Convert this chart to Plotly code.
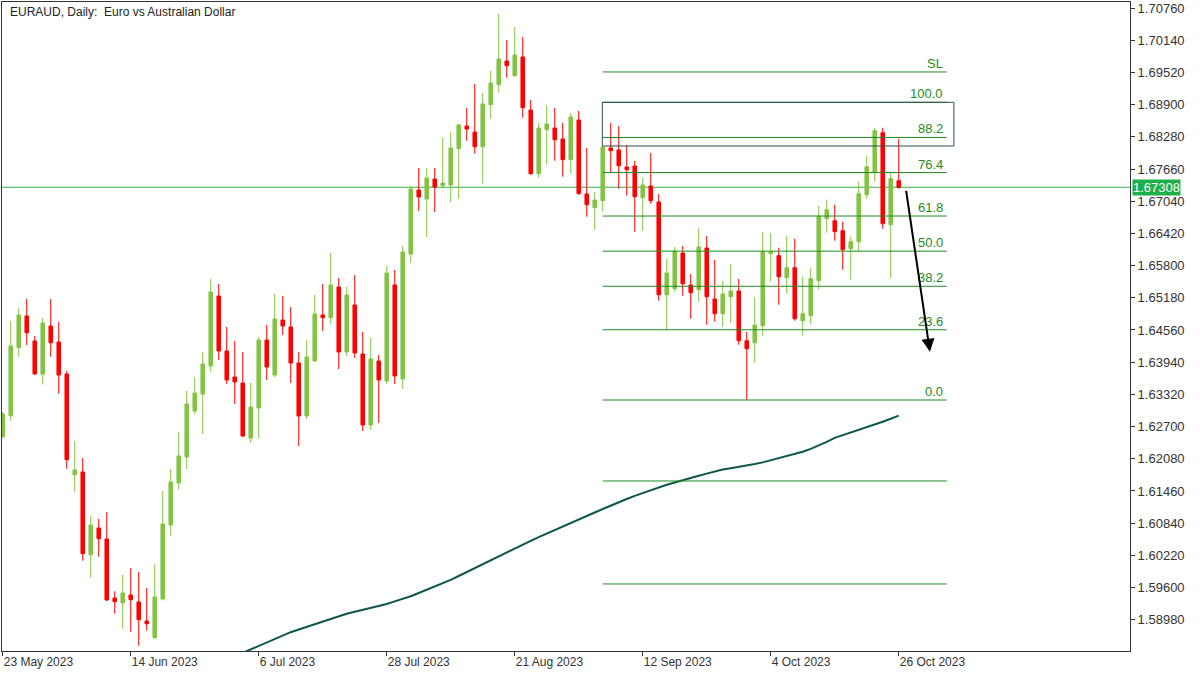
import plotly.graph_objects as go
import pandas as pd

# ---- data -------------------------------------------------------------
dates = [d.strftime("%Y-%m-%d") for d in pd.bdate_range("2023-05-23", "2023-10-26")]

open_ = [1.62505, 1.62910, 1.64219, 1.64830, 1.64348, 1.63713, 1.64637, 1.64329, 1.63713, 1.61774,
         1.61826, 1.60233, 1.60747, 1.60536, 1.59400, 1.59309, 1.59457, 1.59323, 1.58957, 1.58635,
         1.59380, 1.60805, 1.61614, 1.62115, 1.63000, 1.63328, 1.63867, 1.65215, 1.64156, 1.63655,
         1.63539, 1.62480, 1.63058, 1.64367, 1.63693, 1.64752, 1.64618, 1.63924, 1.62904, 1.63963,
         1.64849, 1.64797, 1.65388, 1.64136, 1.65041, 1.64098, 1.62731, 1.63963, 1.63578, 1.65426,
         1.63616, 1.66023, 1.67256, 1.67082, 1.67467, 1.67338, 1.67352, 1.68051, 1.68488, 1.68372,
         1.68089, 1.68898, 1.69283, 1.69739, 1.69456, 1.69817, 1.68796, 1.67570, 1.68417, 1.68449,
         1.68238, 1.67839, 1.68603, 1.67179, 1.66915, 1.67050, 1.68064, 1.68026, 1.67698, 1.67718,
         1.67107, 1.67333, 1.67025, 1.65240, 1.65355, 1.66043, 1.65426, 1.65336, 1.66139, 1.65157,
         1.64874, 1.65201, 1.65311, 1.64354, 1.64315, 1.64643, 1.66029, 1.65991, 1.65567, 1.65759,
         1.64739, 1.64835, 1.65509, 1.66703, 1.66664, 1.66472, 1.66125, 1.66260, 1.67165, 1.67596,
         1.68359, 1.66587, 1.67435]
high = [1.62981, 1.64733, 1.64984, 1.65157, 1.64444, 1.64791, 1.65157, 1.64714, 1.63770, 1.62423,
        1.62095, 1.60978, 1.60921, 1.61056, 1.59529, 1.59842, 1.59977, 1.59900, 1.59592, 1.60054,
        1.61460, 1.61883, 1.62596, 1.63385, 1.63655, 1.64136, 1.65542, 1.65446, 1.64618, 1.64348,
        1.64136, 1.63539, 1.64425, 1.64656, 1.65253, 1.65215, 1.65003, 1.64136, 1.64367, 1.65234,
        1.65446, 1.66043, 1.65561, 1.65388, 1.65619, 1.64521, 1.64406, 1.64079, 1.65792, 1.65715,
        1.66177, 1.67333, 1.67679, 1.67679, 1.67679, 1.68257, 1.68372, 1.68526, 1.68835, 1.69297,
        1.69123, 1.69547, 1.70644, 1.70144, 1.70394, 1.70202, 1.68989, 1.68546, 1.68892, 1.68835,
        1.68546, 1.68738, 1.68777, 1.68064, 1.67217, 1.68103, 1.68546, 1.68488, 1.68122, 1.67814,
        1.67487, 1.67968, 1.67179, 1.65927, 1.66158, 1.66177, 1.65638, 1.66524, 1.66370, 1.65908,
        1.65503, 1.65831, 1.65542, 1.64521, 1.65195, 1.66447, 1.66428, 1.66145, 1.66376, 1.66318,
        1.65586, 1.65759, 1.66948, 1.67069, 1.66973, 1.66645, 1.66356, 1.67415, 1.67916, 1.68449,
        1.68455, 1.67589, 1.68238]
low = [1.62480, 1.62813, 1.64046, 1.64271, 1.63693, 1.63507, 1.64046, 1.63333, 1.61889, 1.61446,
       1.60118, 1.59790, 1.60195, 1.59342, 1.59097, 1.58808, 1.58751, 1.58481, 1.58770, 1.58620,
       1.59348, 1.60593, 1.61485, 1.61883, 1.62943, 1.62557, 1.63751, 1.63982, 1.63520, 1.63135,
       1.62500, 1.62384, 1.62480, 1.63597, 1.63655, 1.64464, 1.63539, 1.62326, 1.62846, 1.63944,
       1.64541, 1.64675, 1.63809, 1.64059, 1.64021, 1.62615, 1.62634, 1.62769, 1.63520, 1.63520,
       1.63424, 1.65850, 1.66851, 1.66351, 1.66832, 1.67281, 1.67025, 1.67088, 1.68205, 1.67955,
       1.67377, 1.68629, 1.69129, 1.69418, 1.69437, 1.68648, 1.67550, 1.67492, 1.67743, 1.67820,
       1.67512, 1.67570, 1.67169, 1.66742, 1.66491, 1.66838, 1.67602, 1.67281, 1.67146, 1.66453,
       1.66472, 1.66992, 1.65124, 1.64560, 1.65297, 1.65220, 1.64778, 1.65105, 1.64662, 1.64720,
       1.64623, 1.64700, 1.64277, 1.63212, 1.63930, 1.64450, 1.65490, 1.65047, 1.65259, 1.64739,
       1.64450, 1.64662, 1.65336, 1.66433, 1.66279, 1.65721, 1.65529, 1.66068, 1.67088, 1.67415,
       1.66510, 1.65567, 1.67281]
close = [1.62943, 1.64252, 1.64849, 1.64508, 1.63713, 1.64695, 1.64315, 1.63693, 1.62063, 1.61864,
         1.60253, 1.60805, 1.60541, 1.59361, 1.59328, 1.59496, 1.59367, 1.58982, 1.58905, 1.59419,
         1.60824, 1.61633, 1.62134, 1.63135, 1.63347, 1.63905, 1.65292, 1.64156, 1.63597, 1.63559,
         1.62519, 1.63077, 1.64367, 1.63847, 1.64772, 1.64637, 1.63924, 1.62904, 1.64040, 1.64868,
         1.64797, 1.65426, 1.64136, 1.65234, 1.64117, 1.62731, 1.64002, 1.63597, 1.65657, 1.63674,
         1.66062, 1.67275, 1.67121, 1.67487, 1.67313, 1.67390, 1.68064, 1.68507, 1.68430, 1.68089,
         1.68912, 1.69316, 1.69778, 1.69649, 1.69855, 1.68840, 1.67570, 1.68449, 1.68526, 1.68224,
         1.67839, 1.68661, 1.67184, 1.66973, 1.67063, 1.68084, 1.68012, 1.67723, 1.67647, 1.67127,
         1.67352, 1.67050, 1.65240, 1.65657, 1.66081, 1.65451, 1.65278, 1.66158, 1.65201, 1.64874,
         1.65253, 1.65311, 1.64354, 1.64200, 1.64656, 1.66068, 1.66068, 1.65586, 1.65759, 1.64778,
         1.64874, 1.65548, 1.66749, 1.66876, 1.66453, 1.66106, 1.66260, 1.67184, 1.67704, 1.68397,
         1.66607, 1.67473, 1.67308]

# moving average (visible part starts near 5 Jul)
ma_line = [None] * 30 + [
    1.58344, 1.58412, 1.58479, 1.58547, 1.58614, 1.58681, 1.58741, 1.58793, 1.58845, 1.58897,
    1.58949, 1.59005, 1.59051, 1.59095, 1.59134, 1.59170, 1.59207, 1.59244, 1.59284, 1.59334,
    1.59382, 1.59434, 1.59496, 1.59557, 1.59619, 1.59679, 1.59750, 1.59823, 1.59900, 1.59977,
    1.60054, 1.60131, 1.60208, 1.60281, 1.60356, 1.60430, 1.60501, 1.60570, 1.60640, 1.60709,
    1.60776, 1.60844, 1.60909, 1.60978, 1.61046, 1.61113, 1.61181, 1.61244, 1.61306, 1.61367,
    1.61423, 1.61475, 1.61531, 1.61579, 1.61625, 1.61672, 1.61712, 1.61753, 1.61795, 1.61835,
    1.61872, 1.61897, 1.61920, 1.61945, 1.61978, 1.62011, 1.62049, 1.62090, 1.62132, 1.62174,
    1.62215, 1.62272, 1.62336, 1.62407, 1.62484, 1.62534, 1.62584, 1.62634, 1.62683, 1.62738,
    1.62794, 1.62850, 1.62910]

tick_dates = ["2023-05-23", "2023-06-14", "2023-07-06", "2023-07-28",
              "2023-08-21", "2023-09-12", "2023-10-04", "2023-10-26"]
tick_labels = ["23 May 2023", "14 Jun 2023", "6 Jul 2023", "28 Jul 2023",
               "21 Aug 2023", "12 Sep 2023", "4 Oct 2023", "26 Oct 2023"]
price_ticks = [1.58980, 1.59600, 1.60220, 1.60840, 1.61460, 1.62080, 1.62700, 1.63320,
               1.63940, 1.64560, 1.65180, 1.65800, 1.66420, 1.67040, 1.67660, 1.68280,
               1.68900, 1.69520, 1.70140, 1.70760]

current_price = 1.67308
fib_low = 1.63212
fib_high = 1.68944
fib_levels = [100.0, 88.2, 76.4, 61.8, 50.0, 38.2, 23.6, 0.0, -27.2, -61.8]
fib_labels = ["100.0", "88.2", "76.4", "61.8", "50.0", "38.2", "23.6", "0.0", "", ""]
sl_price = 1.69528
zone_low = 1.68103
fib_start, fib_end, zone_end = 75, 118, 118.9
arrow_from = (112.9, 1.67269)
arrow_to = (115.9, 1.64142)

# ---- styling ----------------------------------------------------------
GREEN_C = "#82C341"
RED_C = "#FF0000"
FIB_C = "#1E8C1E"
TXT = "#333333"
FONT = "Liberation Sans"

fig = go.Figure()
fig.add_trace(go.Candlestick(
    x=dates, open=open_, high=high, low=low, close=close,
    increasing=dict(line=dict(color=GREEN_C, width=1), fillcolor=GREEN_C),
    decreasing=dict(line=dict(color=RED_C, width=1), fillcolor=RED_C),
    whiskerwidth=0, hoverinfo="skip", showlegend=False))
fig.add_trace(go.Scatter(
    x=dates, y=ma_line, mode="lines",
    line=dict(color="#0D564C", width=2), hoverinfo="skip", showlegend=False))

shapes = []
# current price line
shapes.append(dict(type="line", xref="paper", x0=0, x1=1, yref="y",
                   y0=current_price, y1=current_price,
                   line=dict(color="#3AAE4C", width=1), layer="below"))
# fib levels
annotations = []
for lvl, lab in zip(fib_levels, fib_labels):
    p = fib_low + (fib_high - fib_low) * lvl / 100.0
    shapes.append(dict(type="line", xref="x", yref="y", x0=fib_start, x1=fib_end,
                       y0=p, y1=p, line=dict(color=FIB_C, width=1)))
    if lab:
        annotations.append(dict(x=fib_end - 0.25, y=p, xref="x", yref="y", text=lab,
                                showarrow=False, xanchor="right", yanchor="bottom",
                                yshift=-1, font=dict(family=FONT, size=13, color=FIB_C)))
shapes.append(dict(type="line", xref="x", yref="y", x0=fib_start, x1=fib_end,
                   y0=sl_price, y1=sl_price, line=dict(color=FIB_C, width=1)))
annotations.append(dict(x=fib_end - 0.25, y=sl_price, xref="x", yref="y", text="SL",
                        showarrow=False, xanchor="right", yanchor="bottom", yshift=-1,
                        font=dict(family=FONT, size=13, color=FIB_C)))
# zone rectangle
shapes.append(dict(type="rect", xref="x", yref="y", x0=fib_start - 0.05, x1=zone_end,
                   y0=zone_low, y1=fib_high, line=dict(color="#2F4F4F", width=1),
                   fillcolor="rgba(0,0,0,0)"))

# arrow
annotations.append(dict(x=arrow_to[0], y=arrow_to[1], ax=arrow_from[0], ay=arrow_from[1],
                        xref="x", yref="y", axref="x", ayref="y", text="",
                        showarrow=True, arrowhead=2, arrowsize=1.3, arrowwidth=2,
                        arrowcolor="#000000"))
# title
annotations.append(dict(x=0.0053, y=0.985, xref="paper", yref="paper",
                        text="EURAUD, Daily:  Euro vs Australian Dollar",
                        showarrow=False, xanchor="left", yanchor="middle",
                        font=dict(family=FONT, size=12, color="#222222")))
# current price label
annotations.append(dict(x=1, y=current_price, xref="paper", yref="y",
                        text=f"{current_price:.5f}", showarrow=False,
                        xanchor="left", yanchor="middle", xshift=2,
                        bgcolor="#1DAF4A", borderpad=0,
                        font=dict(family=FONT, size=13, color="#FFFFFF")))

fig.update_layout(
    width=1200, height=675,
    margin=dict(l=2, r=70, t=2, b=24),
    paper_bgcolor="white", plot_bgcolor="white",
    shapes=shapes, annotations=annotations,
    boxgap=0.375, hovermode=False,
    font=dict(family=FONT, size=12, color=TXT),
)
fig.update_xaxes(
    type="category", range=[-0.09, 140.91], rangeslider=dict(visible=False),
    tickvals=tick_dates, ticktext=tick_labels, ticklabelposition="outside right",
    ticks="outside", ticklen=4, tickcolor=TXT, showgrid=False, zeroline=False,
    showline=True, linecolor=TXT, linewidth=1, mirror=True,
    tickfont=dict(family=FONT, size=12, color=TXT))
fig.update_yaxes(
    side="right", range=[1.58379, 1.708755],
    tickvals=price_ticks, ticktext=[f"{v:.5f}" for v in price_ticks],
    ticks="outside", ticklen=4, tickcolor=TXT, showgrid=False, zeroline=False,
    showline=True, linecolor=TXT, linewidth=1, mirror=True,
    tickfont=dict(family=FONT, size=13, color=TXT))

fig.write_html("out.html", config={"displayModeBar": False},
               post_script="document.body.style.margin='0';document.body.style.overflow='hidden';")
